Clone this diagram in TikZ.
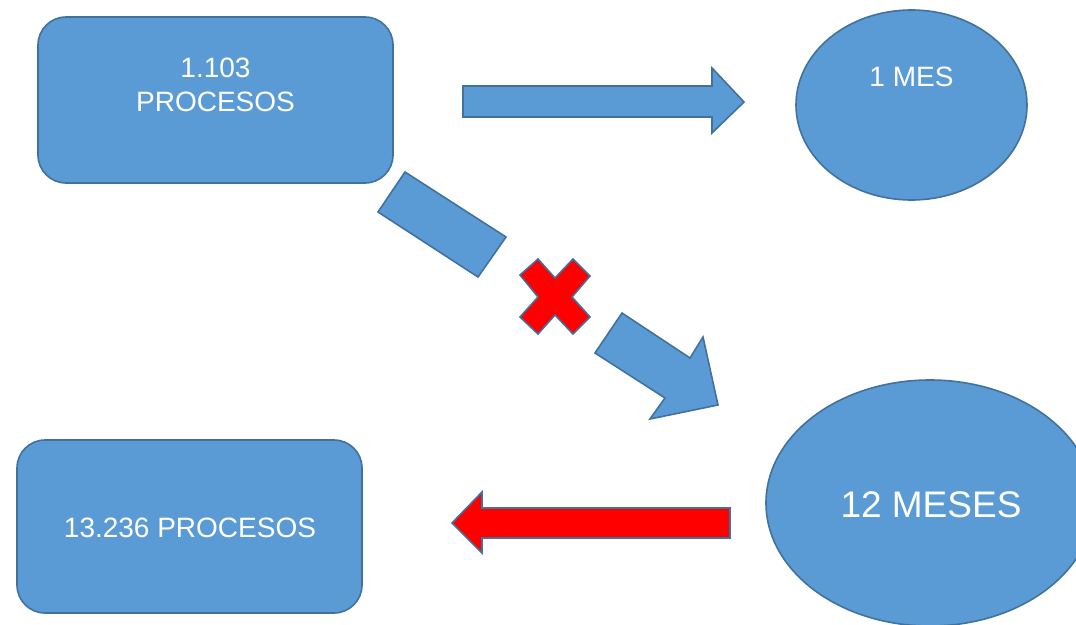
\documentclass[tikz,border=0pt]{standalone}
\usepackage{fontspec}
\setmainfont{Liberation Sans}
\usetikzlibrary{positioning,shapes.geometric}

\definecolor{boxblue}{HTML}{5B9BD5}
\definecolor{lineblue}{HTML}{41719C}

\begin{document}
\begin{tikzpicture}[x=1pt,y=-1pt,
		box/.style={draw=lineblue,fill=boxblue,line width=1.6pt,rounded corners=28pt,inner sep=0pt},
		oval/.style={ellipse,draw=lineblue,fill=boxblue,line width=1.6pt,inner sep=0pt},
		txt/.style={text=white,font=\fontsize{28}{34}\selectfont,align=center,inner sep=0pt},
		bigtxt/.style={text=white,font=\fontsize{37}{44}\selectfont,inner sep=0pt},
		blockarrow/.style={draw=lineblue,fill=boxblue,line width=1.6pt,line join=miter},
		redarrow/.style={draw=lineblue,fill=red,line width=1.6pt,line join=miter}]
		\useasboundingbox (0,0) rectangle (1076,624);
		\clip (0,0) rectangle (1076,624);

		\node[box,minimum width=355pt,minimum height=166pt]		(proc1)		at (215.5,100)	{};
		\node[txt]												(proc1t)	at (215.5,85)	{1.103\\PROCESOS};
		\node[oval,minimum width=231pt,minimum height=190pt]	(mes1)		at (911.5,105)	{};
		\node[txt]												(mes1t)		at (911.5,77)	{1 MES};
		\node[oval,minimum width=328pt,minimum height=246pt]	(mes12)		at (930,503)	{};
		\node[bigtxt]											(mes12t)	at (931,505)	{12 MESES};
		\node[box,minimum width=345pt,minimum height=173pt]		(proc2)		at (189.5,526.5)	{};
		\node[txt]												(proc2t)	at (190,528)	{13.236 PROCESOS};

		% flecha de arriba
		\draw[blockarrow] (463,86) -- (712,86) -- (712,68) -- (744,102) -- (712,133) -- (712,117) -- (463,117) -- cycle;
		% flecha cortada
		\draw[blockarrow] (405,172) -- (506,237) -- (478,277) -- (378,212) -- cycle;
		\draw[blockarrow] (622,313) -- (690,358) -- (703,337) -- (718,405) -- (650,419) -- (665,398) -- (595,353) -- cycle;
		\draw[redarrow] (520,275) -- (538,259) -- (555,278) -- (573,259) -- (590,276) -- (572,297) -- (590,317) -- (573,334) -- (555,315) -- (538,334) -- (520,317) -- (538,297) -- cycle;
		% flecha roja
		\draw[redarrow] (730,508) -- (482,508) -- (482,492) -- (452,523) -- (482,553) -- (482,538) -- (730,538) -- cycle;
	\end{tikzpicture}
\end{document}
